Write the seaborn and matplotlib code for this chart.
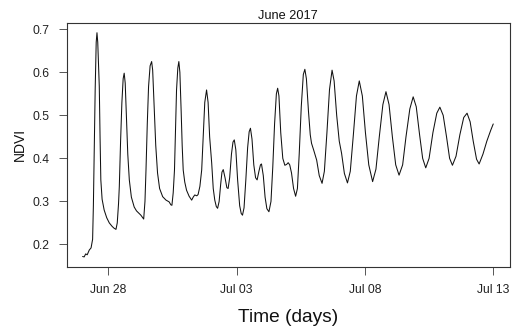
import matplotlib
matplotlib.use("Agg")
import matplotlib.pyplot as plt
import matplotlib.dates as mdates
import numpy as np
import pandas as pd
import seaborn as sns

# days after 2017-06-27 00:00
days = [0.00, 0.06, 0.12, 0.18, 0.26, 0.33, 0.39, 0.42, 0.45, 0.49, 0.53, 0.56, 0.59, 0.62,
        0.65, 0.68, 0.71, 0.76, 0.84, 0.94, 1.04, 1.15, 1.22, 1.30, 1.35, 1.40, 1.43, 1.48,
        1.53, 1.58, 1.62, 1.66, 1.71, 1.76, 1.82, 1.90, 2.01, 2.10, 2.20, 2.27, 2.34, 2.38,
        2.43, 2.47, 2.52, 2.57, 2.63, 2.69, 2.73, 2.79, 2.85, 2.92, 3.00, 3.12, 3.25, 3.37,
        3.44, 3.48, 3.53, 3.58, 3.62, 3.66, 3.71, 3.75, 3.79, 3.84, 3.88, 3.92, 3.98, 4.05,
        4.15, 4.25, 4.31, 4.37, 4.45, 4.50, 4.57, 4.64, 4.70, 4.76, 4.83, 4.89, 4.95, 5.03,
        5.09, 5.15, 5.21, 5.26, 5.32, 5.38, 5.43, 5.48, 5.55, 5.62, 5.67, 5.73, 5.80, 5.86,
        5.91, 5.97, 6.04, 6.12, 6.18, 6.23, 6.29, 6.36, 6.43, 6.49, 6.54, 6.60, 6.67, 6.74,
        6.80, 6.87, 6.93, 6.97, 7.04, 7.11, 7.18, 7.26, 7.34, 7.41, 7.48, 7.55, 7.60, 7.65,
        7.72, 7.80, 7.88, 7.95, 8.01, 8.07, 8.14, 8.22, 8.30, 8.37, 8.44, 8.52, 8.60, 8.66,
        8.72, 8.80, 8.87, 8.92, 9.00, 9.12, 9.22, 9.33, 9.42, 9.52, 9.62, 9.72, 9.80, 9.90,
        10.00, 10.09, 10.20, 10.32, 10.43, 10.55, 10.67, 10.78, 10.90, 11.02, 11.15, 11.30,
        11.43, 11.56, 11.70, 11.82, 11.94, 12.07, 12.20, 12.33, 12.47, 12.60, 12.75, 12.88,
        13.00, 13.13, 13.25, 13.37, 13.50, 13.65, 13.80, 13.92, 14.05, 14.18, 14.30, 14.41,
        14.55, 14.70, 14.85, 14.98, 15.10, 15.22, 15.35, 15.45, 15.60, 15.75, 15.90, 16.00]

ndvi = [0.172, 0.171, 0.178, 0.176, 0.187, 0.192, 0.212, 0.290, 0.412, 0.560, 0.670, 0.692, 0.670, 0.620,
        0.567, 0.450, 0.350, 0.305, 0.280, 0.262, 0.250, 0.242, 0.238, 0.235, 0.250, 0.295, 0.334, 0.440,
        0.529, 0.585, 0.598, 0.575, 0.489, 0.410, 0.350, 0.310, 0.287, 0.278, 0.272, 0.268, 0.262, 0.259,
        0.300, 0.373, 0.480, 0.567, 0.615, 0.625, 0.605, 0.520, 0.430, 0.366, 0.330, 0.311, 0.303, 0.299,
        0.292, 0.291, 0.320, 0.373, 0.470, 0.559, 0.610, 0.625, 0.600, 0.510, 0.430, 0.373, 0.345, 0.326,
        0.312, 0.303, 0.310, 0.315, 0.313, 0.316, 0.335, 0.373, 0.450, 0.530, 0.559, 0.530, 0.450, 0.389,
        0.330, 0.303, 0.288, 0.284, 0.300, 0.340, 0.368, 0.374, 0.355, 0.332, 0.330, 0.355, 0.410, 0.438,
        0.443, 0.420, 0.350, 0.290, 0.272, 0.268, 0.285, 0.350, 0.425, 0.462, 0.470, 0.445, 0.385, 0.355,
        0.350, 0.370, 0.385, 0.387, 0.360, 0.310, 0.283, 0.276, 0.300, 0.380, 0.480, 0.550, 0.563, 0.545,
        0.460, 0.400, 0.384, 0.386, 0.390, 0.385, 0.366, 0.330, 0.312, 0.330, 0.410, 0.520, 0.595, 0.607,
        0.585, 0.510, 0.455, 0.435, 0.420, 0.396, 0.360, 0.342, 0.370, 0.460, 0.560, 0.605, 0.580, 0.500,
        0.440, 0.412, 0.365, 0.343, 0.370, 0.455, 0.545, 0.580, 0.545, 0.460, 0.385, 0.346,
        0.375, 0.450, 0.525, 0.555, 0.525, 0.450, 0.385, 0.361, 0.385, 0.450, 0.515, 0.543,
        0.520, 0.455, 0.400, 0.378, 0.400, 0.460, 0.505, 0.519, 0.500, 0.450, 0.400, 0.384,
        0.405, 0.455, 0.495, 0.505, 0.485, 0.440, 0.398, 0.387, 0.410, 0.440, 0.465, 0.480]

tick_dates = ["2017-06-28", "2017-07-03", "2017-07-08", "2017-07-13"]

start = pd.Timestamp("2017-06-27")
df = pd.DataFrame({"time": start + pd.to_timedelta(days, unit="D"), "ndvi": ndvi})

sns.set_style("white")
plt.rcParams["font.family"] = ["Liberation Sans", "DejaVu Sans"]

fig = plt.figure(figsize=(5.13, 3.29), dpi=100)
ax = fig.add_axes([0.130, 0.189, 0.864, 0.742])
sns.lineplot(data=df, x="time", y="ndvi", color="#111111", linewidth=0.75, ax=ax)

ax.set_xlim(start - pd.Timedelta(days=0.62), pd.Timestamp("2017-07-13") + pd.Timedelta(days=0.65))
ax.set_ylim(0.148, 0.7153)
ax.set_xticks(pd.to_datetime(tick_dates))
ax.xaxis.set_major_formatter(mdates.DateFormatter("%b %d"))
ax.set_yticks([0.2, 0.3, 0.4, 0.5, 0.6, 0.7])

for s in ax.spines.values():
    s.set_color("#333333")
    s.set_linewidth(0.8)
ax.tick_params(axis="both", direction="out", length=6, width=0.7, color="#555555",
               labelsize=8.7, pad=6.5, left=True, bottom=True, labelcolor="#222222")
ax.set_xlabel("Time (days)", fontsize=13.8, labelpad=9, color="#111111")
ax.set_ylabel("NDVI", fontsize=10, labelpad=4, color="#111111")
ax.set_title("June 2017", fontsize=9.2, pad=3, color="#111111")

fig.savefig("out.png", dpi=100)
